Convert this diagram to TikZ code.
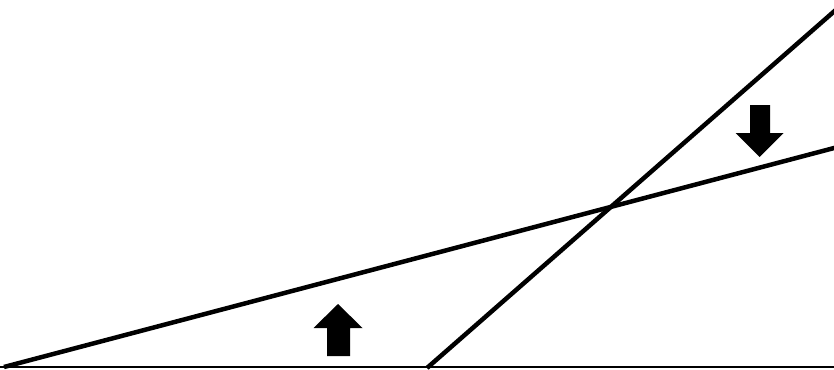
\documentclass[tikz,border=0pt]{standalone}
\begin{document}
\begin{tikzpicture}[x=1pt,y=-1pt,
  thickline/.style={line width=4.5pt,black},
  baseline/.style={line width=2.2pt,black},
  blockarrow/.style={fill=black,draw=none}]
\useasboundingbox (0,0) rectangle (834,369);
\begin{scope}
\clip (0,0) rectangle (834,369);
\coordinate (b0) at (0,367);
\coordinate (b1) at (834,367);
\coordinate (l1a) at (4,367);
\coordinate (l1b) at (836,147.5);
\coordinate (l2a) at (427,368);
\coordinate (l2b) at (838,8);
\draw[baseline] (b0) -- (b1);
\draw[thickline] (l1a) -- (l1b);
\draw[thickline] (l2a) -- (l2b);
% up arrow
\fill[blockarrow] (338,304) -- (362.5,328) -- (350,328) -- (350,356) -- (327,356) -- (327,328) -- (313.5,328) -- cycle;
% down arrow
\fill[blockarrow] (759.5,157) -- (783.5,133) -- (770,133) -- (770,105) -- (750,105) -- (750,133) -- (735.5,133) -- cycle;
\end{scope}
\end{tikzpicture}
\end{document}
